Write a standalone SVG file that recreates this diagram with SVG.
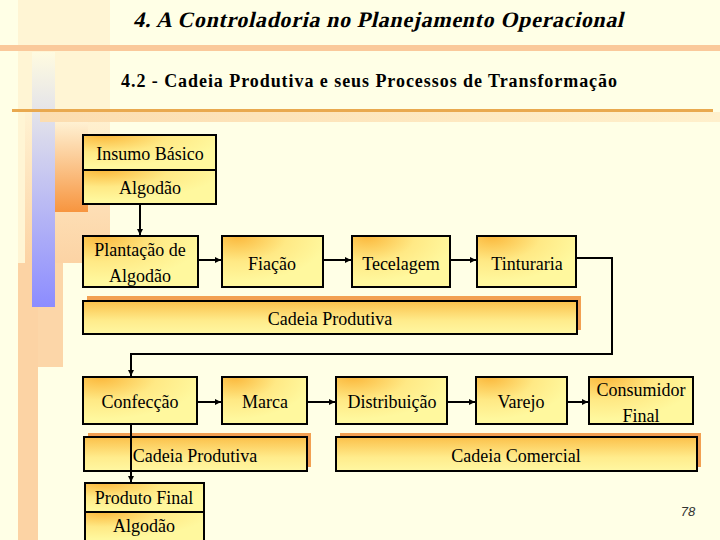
<svg xmlns="http://www.w3.org/2000/svg" width="720" height="540" viewBox="0 0 720 540">
  <defs>
    <radialGradient id="boxfill" cx="0.15" cy="0" r="0.9">
      <stop offset="0" stop-color="#FBB83C"/>
      <stop offset="0.55" stop-color="#FFE985"/>
      <stop offset="1" stop-color="#FFF89E"/>
    </radialGradient>
    <linearGradient id="bandfill" x1="0" y1="0" x2="0" y2="1">
      <stop offset="0" stop-color="#FBC04A"/>
      <stop offset="0.6" stop-color="#FFEC8C"/>
      <stop offset="1" stop-color="#FFF7A2"/>
    </linearGradient>
    <linearGradient id="blueBar" x1="0" y1="0" x2="0" y2="1">
      <stop offset="0" stop-color="#FFFBE0"/>
      <stop offset="0.25" stop-color="#E2E2EA"/>
      <stop offset="1" stop-color="#8C8CFF"/>
    </linearGradient>
    <linearGradient id="orangeBlock" x1="0" y1="0" x2="0" y2="1">
      <stop offset="0" stop-color="#FFF3D6"/>
      <stop offset="1" stop-color="#F7953F"/>
    </linearGradient>
    <linearGradient id="peachCol" x1="0" y1="0" x2="0" y2="1">
      <stop offset="0" stop-color="#FFF2D2"/>
      <stop offset="1" stop-color="#FCD3A4"/>
    </linearGradient>
    <linearGradient id="underBand" x1="0" y1="0" x2="1" y2="0">
      <stop offset="0" stop-color="#FCDDB0"/>
      <stop offset="1" stop-color="#FFF0CC"/>
    </linearGradient>
    <marker id="arrow" markerWidth="7" markerHeight="7" refX="6" refY="3" orient="auto" markerUnits="userSpaceOnUse">
      <path d="M0,0 L6,3 L0,6 z" fill="#000"/>
    </marker>
  </defs>
  <style>
    .box { fill: url(#boxfill); stroke: #000; stroke-width: 2; }
    .band { fill: url(#bandfill); stroke: #000; stroke-width: 2; }
    .shadow { fill: #F2A052; }
    .serif { font-family: "Times New Roman", Times, serif; fill: #000; }
    .lbl { font-family: "Times New Roman", Times, serif; font-size: 18px; fill: #000; text-anchor: middle; }
    .conn { fill: none; stroke: #000; stroke-width: 2; }
  </style>

  <!-- background -->
  <rect x="0" y="0" width="720" height="540" fill="#FFFFE6"/>

  <!-- decoration -->
  <g id="decoration">
    <rect x="18" y="0" width="92" height="263" fill="#FFF5D4"/>
    <rect x="25" y="112" width="85" height="151" fill="url(#peachCol)"/>
    <rect x="33" y="263" width="30" height="104" fill="#FCD6A8"/>
    <rect x="18" y="263" width="20" height="277" fill="#FCD3A4"/>
    <rect x="46" y="120" width="42" height="92" fill="url(#orangeBlock)"/>
    <rect x="32" y="52" width="23" height="255" fill="url(#blueBar)"/>
    <rect x="0" y="45" width="720" height="6" fill="#FAC99B"/>
    <rect x="40" y="112" width="680" height="10" fill="url(#underBand)"/>
    <rect x="12" y="109" width="701" height="3" fill="#E9A94F"/>
  </g>

  <!-- titles -->
  <g transform="translate(378,27) skewX(-13)">
    <text class="serif" x="0" y="0" font-size="22" font-weight="bold" text-anchor="middle" textLength="490" lengthAdjust="spacing">4. A Controladoria no Planejamento Operacional</text>
  </g>
  <text class="serif" x="369" y="87" font-size="18" font-weight="bold" text-anchor="middle" textLength="496" lengthAdjust="spacing">4.2 - Cadeia Produtiva e seus Processos de Transformação</text>

  <!-- connectors -->
  <g id="connectors">
    <line class="conn" x1="140" y1="204" x2="140" y2="235" marker-end="url(#arrow)"/>
    <line class="conn" x1="198" y1="260" x2="221" y2="260" marker-end="url(#arrow)"/>
    <line class="conn" x1="323" y1="260" x2="351" y2="260" marker-end="url(#arrow)"/>
    <line class="conn" x1="450" y1="260" x2="476" y2="260" marker-end="url(#arrow)"/>
    <polyline class="conn" points="577,258 612,258 612,354 131,354 131,376" marker-end="url(#arrow)"/>
    <line class="conn" x1="197" y1="402" x2="221" y2="402" marker-end="url(#arrow)"/>
    <line class="conn" x1="307" y1="402" x2="335" y2="402" marker-end="url(#arrow)"/>
    <line class="conn" x1="447" y1="402" x2="475" y2="402" marker-end="url(#arrow)"/>
    <line class="conn" x1="567" y1="402" x2="588" y2="402" marker-end="url(#arrow)"/>
  </g>

  <!-- nodes -->
  <g id="insumo">
    <rect class="box" x="83" y="135" width="133" height="35"/>
    <text class="lbl" x="150" y="160">Insumo Básico</text>
  </g>
  <g id="algodao-top">
    <rect class="box" x="83" y="170" width="133" height="34"/>
    <text class="lbl" x="150" y="194">Algodão</text>
  </g>
  <g id="plantacao">
    <rect class="box" x="83" y="236" width="115" height="51"/>
    <text class="lbl" x="140" y="256">Plantação de</text>
    <text class="lbl" x="140" y="282">Algodão</text>
  </g>
  <g id="fiacao">
    <rect class="box" x="222" y="236" width="101" height="51"/>
    <text class="lbl" x="272" y="270">Fiação</text>
  </g>
  <g id="tecelagem">
    <rect class="box" x="352" y="236" width="98" height="51"/>
    <text class="lbl" x="401" y="270">Tecelagem</text>
  </g>
  <g id="tinturaria">
    <rect class="box" x="477" y="236" width="99" height="51"/>
    <text class="lbl" x="527" y="270">Tinturaria</text>
  </g>
  <g id="cadeia-produtiva-1">
    <rect class="shadow" x="87" y="296" width="494" height="34"/>
    <rect class="band" x="83" y="301" width="494" height="33"/>
    <text class="lbl" x="330" y="325">Cadeia Produtiva</text>
  </g>
  <g id="confeccao">
    <rect class="box" x="83" y="377" width="114" height="47"/>
    <text class="lbl" x="140" y="408">Confecção</text>
  </g>
  <g id="marca">
    <rect class="box" x="222" y="377" width="85" height="47"/>
    <text class="lbl" x="265" y="408">Marca</text>
  </g>
  <g id="distribuicao">
    <rect class="box" x="336" y="377" width="111" height="47"/>
    <text class="lbl" x="392" y="408">Distribuição</text>
  </g>
  <g id="varejo">
    <rect class="box" x="476" y="377" width="91" height="47"/>
    <text class="lbl" x="521" y="408">Varejo</text>
  </g>
  <g id="consumidor">
    <rect class="box" x="589" y="377" width="104" height="47"/>
    <text class="lbl" x="641" y="396">Consumidor</text>
    <text class="lbl" x="641" y="422">Final</text>
  </g>
  <g id="cadeia-produtiva-2">
    <rect class="shadow" x="88" y="433" width="223" height="34"/>
    <rect class="band" x="84" y="437" width="223" height="34"/>
    <text class="lbl" x="195" y="462">Cadeia Produtiva</text>
  </g>
  <g id="cadeia-comercial">
    <rect class="shadow" x="340" y="433" width="361" height="34"/>
    <rect class="band" x="336" y="437" width="361" height="34"/>
    <text class="lbl" x="516" y="462">Cadeia Comercial</text>
  </g>

  <g id="connectors-2">
    <line class="conn" x1="131" y1="424" x2="131" y2="482" marker-end="url(#arrow)"/>
  </g>

  <g id="produto-final">
    <rect class="box" x="85" y="483" width="119" height="29"/>
    <text class="lbl" x="144" y="504">Produto Final</text>
  </g>
  <g id="algodao-bottom">
    <rect class="box" x="85" y="512" width="119" height="30"/>
    <text class="lbl" x="144" y="532">Algodão</text>
  </g>

  <text x="688" y="516" font-family="Arial, sans-serif" font-size="13" font-style="italic" text-anchor="middle" fill="#333">78</text>
</svg>
